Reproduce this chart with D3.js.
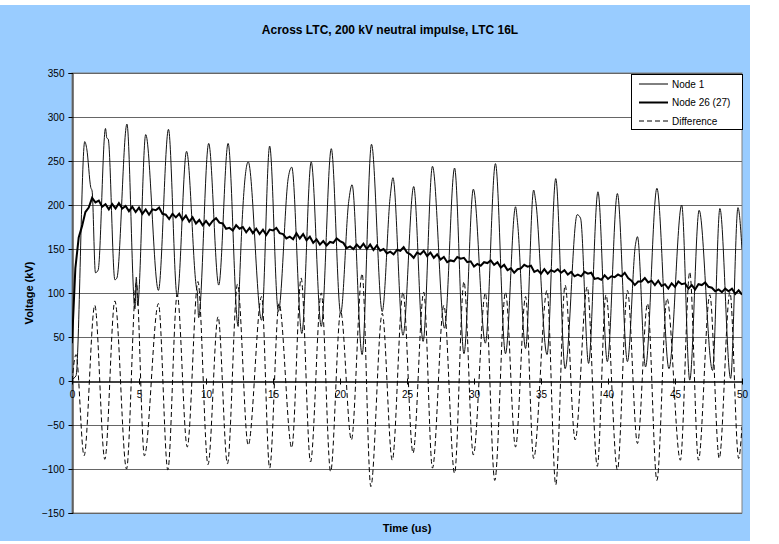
<!DOCTYPE html>
<html><head><meta charset="utf-8">
<script src="https://cdn.jsdelivr.net/npm/d3@7/dist/d3.min.js"></script>
<style>body{margin:0;background:#fff}svg{display:block;font-family:"Liberation Sans",Arial,sans-serif}</style>
</head><body><svg id="c" width="779" height="544"></svg>
<script>
const title = "Across LTC, 200 kV neutral impulse, LTC 16L";
const xTitle = "Time (us)";
const yTitle = "Voltage (kV)";
const xTicks = [0,5,10,15,20,25,30,35,40,45,50];
const yTicks = [-150,-100,-50,0,50,100,150,200,250,300,350];
const seriesNames = ["Node 1","Node 26 (27)","Difference"];

// Node 1 : times (us) and voltages (kV) read at peaks / troughs
const node1T = [0,0.3,0.95,1.1,1.4,1.5,1.75,1.95,2.5,2.6,2.7,3.2,3.35,4.1,4.7,4.8,4.9,5.5,6.45,7.2,7.85,8.55,9.3,9.35,9.45,10.2,10.95,11.65,12.4,12.5,13.15,14.15,14.75,15.4,16.15,16.4,17.15,17.85,18.6,19.35,20.05,20.65,20.9,21.65,22.35,23.15,23.75,23.95,24.7,25.5,26.2,26.9,27.8,28.55,29.25,29.95,30.85,31.6,32.35,33.1,33.25,33.85,34.45,34.6,35.45,36.1,36.8,37.7,37.95,38.55,39.25,39.95,40.7,41.45,42.05,42.2,42.8,43.65,44.55,45.5,46.1,46.8,47.8,48.35,49.15,49.7,50];
const node1V = [2,6,272,264,220,216,123,126,287,276,275,115,117,292,82,118,86,280,103,286,96,261,105,102,72,270,109,270,62,110,249,69,267,79,232,243,54,249,62,264,77,204,223,30,269,79,210,231,52,221,45,244,60,242,31,218,43,247,31,198,180,37,217,205,30,230,14,189,185,20,215,22,213,22,155,164,16,219,14,200,1,194,12,196,3,197,150];

// Node 26 (27) : one value every 0.25 us from 0 to 50 us
const node26Step = 0.25;
const node26V = [43,128,163,176,192,197,208,203,205,198,201,195,201,196,202,196,199,193,198,192,
197,190,195,189,195,194,197,190,189,184,190,186,190,183,188,181,186,179,183,177,
182,177,182,185,180,179,173,174,171,177,173,175,169,174,168,173,167,172,166,172,
171,174,168,167,162,164,161,168,162,167,160,164,157,161,155,159,154,158,157,162,
159,157,151,153,150,155,151,156,150,155,149,154,148,150,145,147,144,149,148,152,
146,144,140,146,144,148,142,146,140,144,138,141,135,137,136,141,139,140,135,136,
130,133,131,135,134,137,132,135,129,132,126,128,123,127,128,132,130,131,124,126,
122,127,122,126,124,127,123,126,121,124,119,121,119,124,122,123,116,117,115,120,
116,119,118,121,119,123,117,114,109,113,113,117,112,114,109,114,108,110,105,111,
107,113,110,111,105,109,104,110,109,112,107,106,102,104,101,105,102,105,99,103,98];

// Difference : times (us) and voltages (kV) at peaks / troughs
const diffT = [0,0.3,0.9,1.7,2.45,3.2,4.07,4.8,5.4,6.45,7.15,7.85,8.6,9.4,10.15,10.9,11.6,12.35,13.15,14.15,14.75,15.45,16.4,17.1,17.8,18.6,19.3,20.05,20.85,21.65,22.3,23.15,23.9,24.7,25.45,26.25,26.9,27.75,28.55,29.25,29.95,30.85,31.55,32.35,33.1,33.85,34.45,35.45,36.1,36.8,37.55,38.45,39.2,39.85,40.7,41.45,42.2,42.95,43.65,44.4,45.4,46.1,46.75,47.6,48.3,49.1,49.75,50];
const diffV = [0,30,-85,86,-89,91,-100,112,-85,88,-101,98,-75,113,-95,73,-94,110,-73,96,-99,88,-76,117,-92,100,-103,79,-67,122,-120,77,-90,101,-82,101,-99,86,-105,113,-84,100,-113,101,-75,96,-88,103,-118,109,-67,107,-97,98,-101,103,-71,88,-113,94,-90,124,-90,98,-88,101,-88,-52];

const svg = d3.select("#c");
const plot = {l:72, r:742, t:73, b:513};

svg.append("rect").attr("x",0).attr("y",5).attr("width",750).attr("height",536).attr("fill","#99CCFF");

const x = d3.scaleLinear().domain([0,50]).range([plot.l, plot.r]);
const y = d3.scaleLinear().domain([-150,350]).range([plot.b, plot.t]);

svg.append("rect").attr("x",plot.l).attr("y",plot.t).attr("width",plot.r-plot.l).attr("height",plot.b-plot.t)
  .attr("fill","#fff").attr("stroke","#808080").attr("stroke-width",1);

// gridlines
svg.append("g").selectAll("line").data(yTicks.filter(d=>d!==0)).join("line")
  .attr("x1",plot.l).attr("x2",plot.r)
  .attr("y1",d=>Math.round(y(d))+0.5).attr("y2",d=>Math.round(y(d))+0.5)
  .attr("stroke","#666").attr("stroke-width",1);

svg.append("text").attr("x",390).attr("y",34).attr("text-anchor","middle")
  .attr("font-size",12).attr("font-weight","bold").text(title);

// y axis
const yAxis = d3.axisLeft(y).tickValues(yTicks).tickSize(4).tickPadding(4);
const gy = svg.append("g").attr("transform",`translate(${plot.l+0.5},0)`).call(yAxis);
gy.select(".domain").attr("stroke","#000");
gy.selectAll(".tick line").attr("stroke","#000");
gy.selectAll("text").attr("font-size",10).attr("font-family","Liberation Sans, Arial, sans-serif").attr("fill","#000");

// x axis at zero
const xAxis = d3.axisBottom(x).tickValues(xTicks).tickSize(3).tickPadding(6).tickSizeOuter(0);
const gx = svg.append("g").attr("transform",`translate(0,${Math.round(y(0))+0.5})`).call(xAxis);
gx.select(".domain").attr("stroke","#000").attr("stroke-width",1.5);
gx.selectAll(".tick line").attr("stroke","#000").attr("y1",-3).attr("y2",3);
gx.selectAll("text").attr("font-size",10).attr("font-family","Liberation Sans, Arial, sans-serif").attr("fill","#000");

svg.append("text").attr("transform",`translate(33,${(plot.t+plot.b)/2}) rotate(-90)`)
  .attr("text-anchor","middle").attr("font-size",11).attr("font-weight","bold").text(yTitle);
svg.append("text").attr("x",(plot.l+plot.r)/2).attr("y",532).attr("text-anchor","middle")
  .attr("font-size",11).attr("font-weight","bold").text(xTitle);

svg.append("clipPath").attr("id","pc").append("rect")
  .attr("x",plot.l).attr("y",plot.t).attr("width",plot.r-plot.l).attr("height",plot.b-plot.t);

const gLines = svg.append("g").attr("clip-path","url(#pc)");
const lineC = d3.line().x(d=>x(d[0])).y(d=>y(d[1])).curve(d3.curveMonotoneX);
const lineL = d3.line().x(d=>x(d[0])).y(d=>y(d[1]));

const diffData = diffT.map((t,i)=>[t,diffV[i]]);
const node1Data = node1T.map((t,i)=>[t,node1V[i]]);
const node26Data = node26V.map((v,i)=>[i*node26Step,v]);

gLines.append("path").attr("d",lineC(diffData)).attr("fill","none").attr("stroke","#000")
  .attr("stroke-width",1).attr("stroke-dasharray","5,3");
gLines.append("path").attr("d",lineC(node1Data)).attr("fill","none").attr("stroke","#111").attr("stroke-width",1);
gLines.append("path").attr("d",lineL(node26Data)).attr("fill","none").attr("stroke","#000").attr("stroke-width",2);

// legend
const lg = svg.append("g");
lg.append("rect").attr("x",631.5).attr("y",74.5).attr("width",111).attr("height",55)
  .attr("fill","#fff").attr("stroke","#000").attr("stroke-width",1);
const styles = [{w:1,dash:null},{w:2,dash:null},{w:1,dash:"5,3"}];
seriesNames.forEach((n,i)=>{
  const yy = 84 + i*18.5;
  lg.append("line").attr("x1",639).attr("x2",668).attr("y1",yy).attr("y2",yy)
    .attr("stroke","#000").attr("stroke-width",styles[i].w).attr("stroke-dasharray",styles[i].dash);
  lg.append("text").attr("x",672).attr("y",yy+3.5).attr("font-size",10).text(n);
});
</script></body></html>
